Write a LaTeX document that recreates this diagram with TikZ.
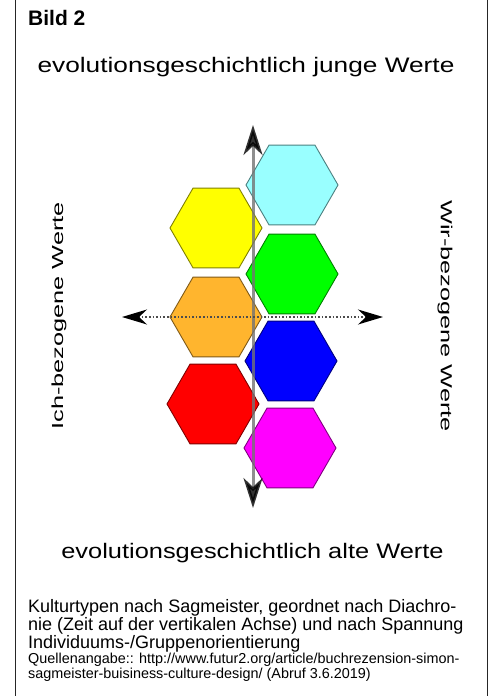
\documentclass[tikz,border=0pt]{standalone}
\usepackage{fontspec}
\setmainfont{Liberation Sans}
\usepackage{graphicx}
\usetikzlibrary{shapes.geometric,arrows.meta}
\definecolor{hcyan}{HTML}{99FFFF}
\definecolor{hyellow}{HTML}{FFFF00}
\definecolor{hgreen}{HTML}{00FF00}
\definecolor{horange}{HTML}{FFB52E}
\definecolor{hblue}{HTML}{0000FF}
\definecolor{hred}{HTML}{FF0000}
\definecolor{hmagenta}{HTML}{FF00FF}
\tikzset{
  hexa/.style={regular polygon, regular polygon sides=6, minimum size=92pt,
    inner sep=0pt, fill=#1, draw=#1!50!black, line width=0.9pt},
  framel/.style={draw=black!85, line width=1.3pt},
  vaxis/.style={draw=black!55, opacity=0.8, line width=3pt,
    {Stealth[length=30pt,width=19pt,inset=9pt,black]}-{Stealth[length=30pt,width=19pt,inset=9pt,black]}},
  haxis/.style={draw=black!70, line width=1.6pt, dotted,
    {Stealth[length=25pt,width=15pt,inset=8pt,black]}-{Stealth[length=25pt,width=15pt,inset=8pt,black]}},
  bigtxt/.style={inner sep=0pt, font=\fontsize{21}{21}\selectfont},
  sidetxt/.style={inner sep=0pt, font=\fontsize{16}{16}\selectfont},
  captxt/.style={inner sep=0pt, anchor=base west, font=\fontsize{18}{18}\selectfont},
  srctxt/.style={inner sep=0pt, anchor=base west, font=\fontsize{14.4}{15}\selectfont},
}
\begin{document}
\begin{tikzpicture}[x=1pt,y=-1pt]
\useasboundingbox (0,0) rectangle (490,696);
\fill[white] (0,0) rectangle (490,696);
% frame
\coordinate (fl1) at (15.5,0); \coordinate (fl2) at (15.5,696);
\coordinate (fr1) at (487.5,0); \coordinate (fr2) at (487.5,696);
\draw[framel] (fl1) -- (fl2);
\draw[framel] (fr1) -- (fr2);
% title
\node[inner sep=0pt, anchor=base west, font=\fontsize{21}{21}\selectfont\bfseries] (title) at (28,25) {Bild 2};
\node[bigtxt, anchor=base] (top) at (246,72) {\scalebox{1.25}[1]{evolutionsgeschichtlich junge Werte}};
\node[bigtxt, anchor=base] (bottom) at (252.5,558) {\scalebox{1.21}[1]{evolutionsgeschichtlich alte Werte}};
% side labels
\node[sidetxt, rotate=90] (ich) at (59,316) {\scalebox{1.58}[1]{Ich-bezogene Werte}};
\node[sidetxt, rotate=-90] (wir) at (445,316) {\scalebox{1.58}[1]{Wir-bezogene Werte}};
% hexagons
\node[hexa=hcyan] (cyan) at (292,185) {};
\node[hexa=hyellow] (yellow) at (216,228) {};
\node[hexa=hgreen] (green) at (292,274) {};
\node[hexa=horange] (orange) at (216,317) {};
\node[hexa=hblue] (blue) at (291,361) {};
\node[hexa=hred] (red) at (213,404) {};
\node[hexa=hmagenta] (magenta) at (290,448) {};
% axes
\coordinate (vtop) at (253,125);
\coordinate (vbot) at (253,508);
\coordinate (hleft) at (122,317);
\coordinate (hright) at (383,317);
\draw[vaxis] (vbot) -- (vtop);
\draw[haxis] (hleft) -- (hright);
% caption
\node[captxt] (c1) at (28,612) {Kulturtypen nach Sagmeister, geordnet nach Diachro-};
\node[captxt] (c2) at (28,630) {nie (Zeit auf der vertikalen Achse) und nach Spannung};
\node[captxt] (c3) at (28,648) {Individuums-/Gruppenorientierung};
\node[srctxt] (c4) at (28,663) {Quellenangabe:: http://www.futur2.org/article/buchrezension-simon-};
\node[srctxt] (c5) at (28,678) {sagmeister-buisiness-culture-design/ (Abruf 3.6.2019)};
\end{tikzpicture}
\end{document}
